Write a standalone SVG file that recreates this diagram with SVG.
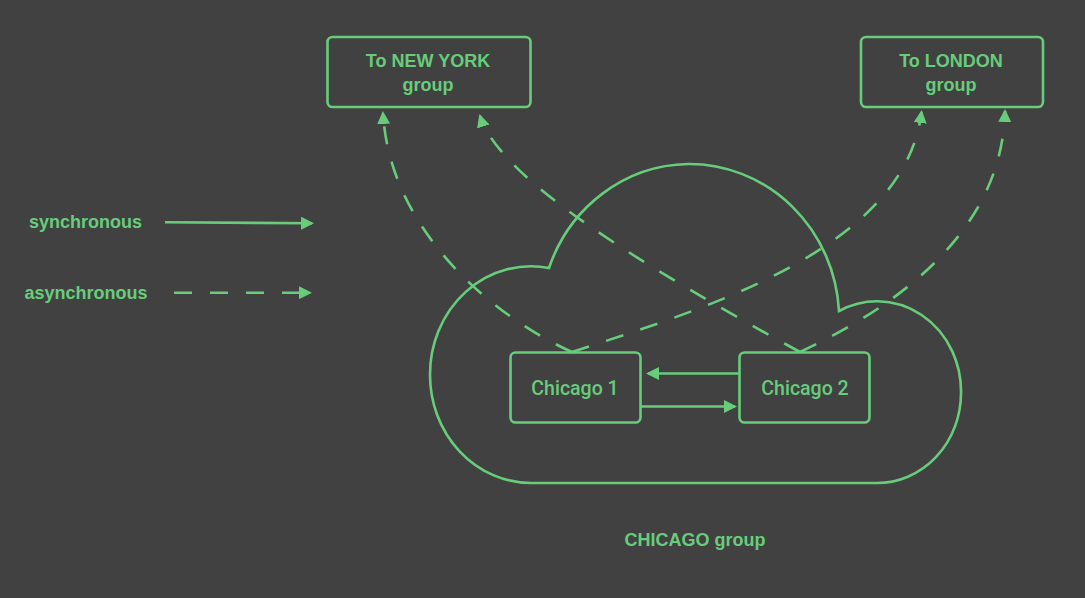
<svg xmlns="http://www.w3.org/2000/svg" width="1085" height="598" viewBox="0 0 1085 598">
<style>
.bg{fill:#414141}
.box{fill:none;stroke:#67cd7b;stroke-width:2.6}
.ln{fill:none;stroke:#67cd7b;stroke-width:2.6}
.dash{stroke-dasharray:18 18}
.t{font-family:"Liberation Sans",Arial,Helvetica,sans-serif;fill:#67cd7b;font-size:18px;font-weight:bold;text-anchor:middle}
.tc{font-family:Roboto,"Liberation Sans",Arial,sans-serif;fill:#67cd7b;font-size:19.5px;font-weight:500;text-anchor:middle}
</style>
<defs>
<marker id="ah" viewBox="0 0 13 13" markerWidth="13" markerHeight="13" refX="11" refY="6.5" orient="auto" markerUnits="userSpaceOnUse"><path d="M0,0 L13,6.5 L0,13 Z" fill="#67cd7b"/></marker>
</defs>
<rect class="bg" x="0" y="0" width="1085" height="598"/>
<g id="cloud">
<path class="ln" d="M 531 483 A 101 108 0 0 1 430 375 A 101 108 0 0 1 549 268 A 150 156 0 0 1 688 164 A 150 156 0 0 1 839 311 A 84 90 0 0 1 961 393 A 84 90 0 0 1 877 483 Z"/>
<text class="t" x="695" y="546">CHICAGO group</text>
</g>
<g id="newyork">
<rect class="box" x="327.5" y="37" width="203" height="70" rx="5"/>
<text class="t" x="428" y="67">To NEW YORK</text>
<text class="t" x="428" y="91">group</text>
</g>
<g id="london">
<rect class="box" x="861" y="37" width="182" height="70" rx="5"/>
<text class="t" x="951" y="67">To LONDON</text>
<text class="t" x="951" y="91">group</text>
</g>
<g id="chicago1">
<rect class="box" x="510.5" y="352.5" width="130" height="70" rx="5"/>
<text class="tc" x="575" y="395">Chicago 1</text>
</g>
<g id="chicago2">
<rect class="box" x="739.5" y="352.5" width="130" height="70" rx="5"/>
<text class="tc" x="805" y="395">Chicago 2</text>
</g>
<g id="legend">
<text class="t" x="85.5" y="228">synchronous</text>
<text class="t" x="86" y="299">asynchronous</text>
<path class="ln" d="M 165 222.3 L 312 223.3" marker-end="url(#ah)"/>
<path class="ln dash" d="M 174 292.7 L 310 292.7" marker-end="url(#ah)"/>
</g>
<g id="connectors">
<path class="ln dash" d="M 572 352 C 500 320 390 235 383 113" marker-end="url(#ah)"/>
<path class="ln dash" d="M 800 352 C 650 270 500 180 480 116" marker-end="url(#ah)"/>
<path class="ln dash" d="M 572 352 C 700 310 905 250 921.5 112" marker-end="url(#ah)"/>
<path class="ln dash" d="M 800 352 C 890 310 1002 235 1005 111" marker-end="url(#ah)"/>
<path class="ln" d="M 739 373.5 L 648 373.5" marker-end="url(#ah)"/>
<path class="ln" d="M 641 406.5 L 735 406.5" marker-end="url(#ah)"/>
</g>
</svg>
